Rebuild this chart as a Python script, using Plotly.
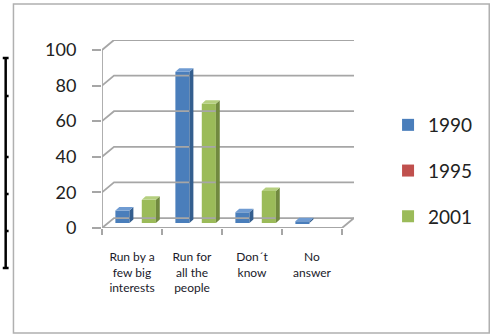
import plotly.graph_objects as go

categories = ["Run by a<br>few big<br>interests", "Run for<br>all the<br>people", "Don´t<br>know", "No<br>answer"]
series_names = ["1990", "1995", "2001"]
values_1990 = [7, 85, 6, 1]
values_1995 = [0, 0, 0, 0]
values_2001 = [13, 67, 18, 0]
y_ticks = [0, 20, 40, 60, 80, 100]

W, H = 490, 335
L, R, T, B = 102, 361, 40, 228  # plot area in pixels
XR = [-0.5, 3.7]
YR = [0, 105.6]
DX, DY = 0.2, 5.6          # back-wall depth offset in data units
BASE = 2.8                 # bars sit at mid depth
BW = 0.235                 # bar width
SDX, SDY = 0.065, 2.0      # bar side/top face depth
GRID = "#a6a6a6"

colors = {"1990": ("#4a7ebb", "#345e8e", "#6f9bd2"),
          "1995": ("#c0504d", "#8c3836", "#d27a78"),
          "2001": ("#9bbb59", "#71893f", "#b5cf7f")}
offsets = {"1990": -0.277, "1995": -0.057, "2001": 0.163}
data = {"1990": values_1990, "1995": values_1995, "2001": values_2001}

fig = go.Figure()

# back wall gridlines with diagonal stubs
for v in y_ticks:
    fig.add_trace(go.Scatter(x=[XR[0], XR[0] + DX, XR[1]], y=[v, v + DY, v + DY],
                             mode="lines", line=dict(color=GRID, width=1.8),
                             showlegend=False, hoverinfo="skip", cliponaxis=False))
# floor front edge and right diagonal
n = len(categories)
fig.add_trace(go.Scatter(x=[XR[0], n - 0.5, n - 0.5 + DX], y=[0, 0, DY],
                         mode="lines", line=dict(color=GRID, width=1.8),
                         showlegend=False, hoverinfo="skip", cliponaxis=False))
# front vertical axis line
fig.add_trace(go.Scatter(x=[XR[0], XR[0]], y=[0, y_ticks[-1]],
                         mode="lines", line=dict(color=GRID, width=1.8),
                         showlegend=False, hoverinfo="skip", cliponaxis=False))

xs = list(range(n))
for name in series_names:
    front, side, top = colors[name]
    vals = data[name]
    fig.add_trace(go.Bar(x=xs, y=vals, base=BASE, width=BW, offset=offsets[name],
                         marker=dict(color=front, line=dict(width=0)),
                         name=name, legendgroup=name, showlegend=True))
    for i, v in enumerate(vals):
        if v <= 0:
            continue
        x0 = i + offsets[name]
        x1 = x0 + BW
        y0 = BASE
        y1 = BASE + v
        fig.add_trace(go.Scatter(x=[x1, x1 + SDX, x1 + SDX, x1, x1],
                                 y=[y0, y0 + SDY, y1 + SDY, y1, y0],
                                 mode="lines", fill="toself", fillcolor=side,
                                 line=dict(width=0, color=side),
                                 showlegend=False, hoverinfo="skip"))
        fig.add_trace(go.Scatter(x=[x0, x0 + SDX, x1 + SDX, x1, x0],
                                 y=[y1, y1 + SDY, y1 + SDY, y1, y1],
                                 mode="lines", fill="toself", fillcolor=top,
                                 line=dict(width=0, color=top),
                                 showlegend=False, hoverinfo="skip"))


def px(xp):
    return (xp - L) / (R - L)


def py(yp):
    return (B - yp) / (B - T)


shapes = [
    dict(type="rect", xref="paper", yref="paper", x0=px(11), x1=px(500), y0=py(333), y1=py(4),
         line=dict(color="#b0b0b0", width=1.5), fillcolor="rgba(0,0,0,0)", layer="below"),
    dict(type="line", xref="paper", yref="paper", x0=px(3), x1=px(3), y0=py(58), y1=py(268),
         line=dict(color="black", width=2.5)),
    dict(type="line", xref="paper", yref="paper", x0=px(0), x1=px(6), y0=py(58), y1=py(58),
         line=dict(color="black", width=2.5)),
    dict(type="line", xref="paper", yref="paper", x0=px(0), x1=px(6), y0=py(268), y1=py(268),
         line=dict(color="black", width=2.5)),
]
for yy in [96, 157, 194, 231]:
    shapes.append(dict(type="line", xref="paper", yref="paper", x0=px(3), x1=px(6),
                       y0=py(yy), y1=py(yy), line=dict(color="black", width=2.5)))

fig.update_layout(
    width=W, height=H,
    margin=dict(l=L, r=W - R, t=T, b=H - B, pad=0),
    paper_bgcolor="white", plot_bgcolor="white",
    barmode="overlay",
    font=dict(family="Lato, Open Sans, sans-serif", color="#222222"),
    shapes=shapes,
    xaxis=dict(range=XR, tickvals=xs, ticktext=categories, ticks="",
               showgrid=False, zeroline=False, showline=False,
               tickfont=dict(size=12, color="#1a1a2a"), ticklabelstandoff=20,
               minor=dict(tickvals=[i - 0.5 for i in range(n + 1)], ticks="outside",
                          ticklen=6, tickcolor=GRID, tickwidth=1.8, showgrid=False)),
    yaxis=dict(range=YR, tickvals=y_ticks, ticks="outside", ticklen=9, tickcolor=GRID,
               tickwidth=1.8, showgrid=False, zeroline=False, showline=False,
               tickfont=dict(size=18, color="#222222"), ticklabelstandoff=12),
    legend=dict(x=px(396), y=py(106), xanchor="left", yanchor="top",
                font=dict(size=19, color="#222222"), tracegroupgap=18,
                bgcolor="rgba(0,0,0,0)", itemwidth=30),
    showlegend=True,
)

fig.write_html("out.html")
